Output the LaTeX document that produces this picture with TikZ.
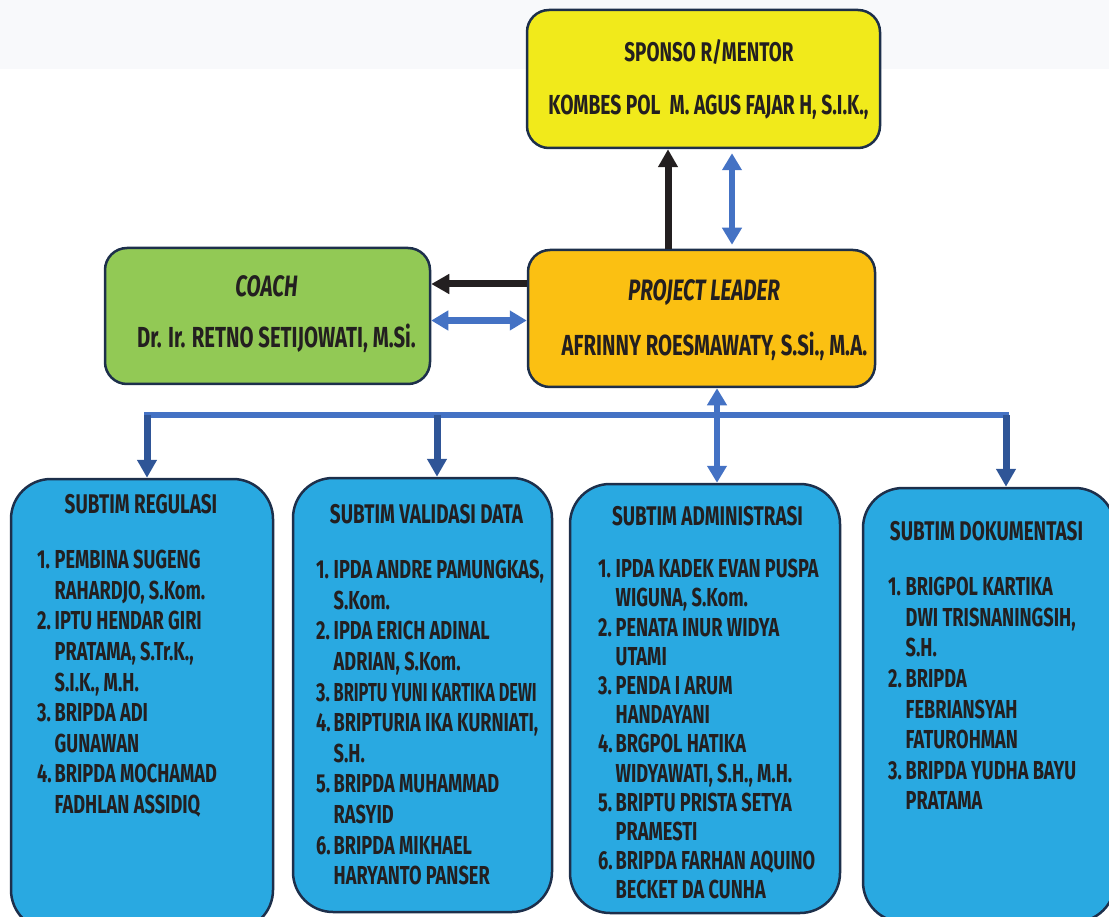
\documentclass[tikz,border=0pt]{standalone}
\usepackage{fontspec}
\setmainfont{Fira Sans}[FakeStretch=0.7]
\usepackage{tikz}
\usetikzlibrary{positioning}
\usetikzlibrary{arrows.meta}
\definecolor{bandgray}{HTML}{F8F9FB}
\definecolor{sponsorfill}{HTML}{F1EA1B}
\definecolor{leaderfill}{HTML}{FBC012}
\definecolor{coachfill}{HTML}{92C955}
\definecolor{subtimfill}{HTML}{29A9E1}
\definecolor{edgeblue}{HTML}{1D2F4B}
\definecolor{linkblue}{HTML}{4472C4}
\definecolor{busblue}{HTML}{2F5597}
\definecolor{inkblack}{HTML}{231F20}
\newcommand{\nr}[1]{\makebox[17.5pt][l]{#1}}
\newcommand{\cont}{\hspace*{17.5pt}}
\tikzset{
block/.style = {draw=edgeblue, line width=2.5pt, rounded corners=22pt, inner sep=0pt},
subtim/.style = {draw=edgeblue, line width=2.5pt, rounded corners=40pt, fill=subtimfill, inner sep=0pt},
txt/.style = {text=inkblack, font=\bfseries\fontsize{26}{30.6}\selectfont, inner sep=0pt, anchor=base},
big/.style = {font=\bfseries\fontsize{29}{30}\selectfont},
head/.style = {font=\bfseries\fontsize{27}{30}\selectfont},
list/.style = {txt, align=left, anchor=north west},
push/.style = {draw=inkblack, line width=7pt, -{Triangle[width=19pt,length=18pt]}},
link/.style = {draw=linkblue, line width=6.5pt, {Triangle[width=19pt,length=17pt]}-{Triangle[width=19pt,length=17pt]}},
bus/.style = {draw=linkblue, line width=6.5pt, line cap=rect},
drop/.style = {draw=busblue, line width=7pt, -{Triangle[width=19pt,length=18pt]}}
}
\begin{document}
\begin{tikzpicture}[x=1pt, y=-1pt]
    \useasboundingbox (0,0) rectangle (1109,917);
    \fill[bandgray] (0,0) rectangle (1109,69);
    % We start by placing the blocks
    \node [block, fill=sponsorfill, minimum width=353pt, minimum height=138pt] (sponsor) at (703.5,79) {};
    \node [block, fill=leaderfill, minimum width=347pt, minimum height=137pt] (leader) at (701.5,318.5) {};
    \node [block, fill=coachfill, minimum width=325pt, minimum height=136pt] (coach) at (267.5,316) {};
    \node [subtim, minimum width=262pt, minimum height=451pt] (reg) at (142,704.5) {};
    \node [subtim, minimum width=259pt, minimum height=434pt] (val) at (422.5,695) {};
    \node [subtim, minimum width=270pt, minimum height=429pt] (adm) at (705,698.5) {};
    \node [subtim, minimum width=252pt, minimum height=434pt] (dok) at (989,705) {};

    % texts of the upper blocks
    \node [txt, head] (sponsortitle) at (709,62) {SPONSO R/MENTOR};
    \node [txt, font=\bfseries\fontsize{27.5}{30}\selectfont] (sponsorname) at (708.5,115) {KOMBES POL\ \ M. AGUS FAJAR H, S.I.K.,};
    \node [txt, font=\bfseries\itshape\fontsize{29.5}{30}\selectfont] (leadertitle) at (704,301) {PROJECT LEADER};
    \node [txt, big] (leadername) at (714.5,356) {AFRINNY ROESMAWATY, S.Si., M.A.};
    \node [txt, font=\bfseries\itshape\fontsize{29.5}{30}\selectfont] (coachtitle) at (266.5,297) {COACH};
    \node [txt, big] (coachname) at (276.5,348) {Dr. Ir. RETNO SETIJOWATI, M.Si.};

    % subtim titles and members
    \node [txt, head] (regtitle) at (141,513) {SUBTIM REGULASI};
    \node [list] (reglist) at (37,550) {\nr{1.}PEMBINA SUGENG\\ \cont RAHARDJO, S.Kom.\\
        \nr{2.}IPTU HENDAR GIRI\\ \cont PRATAMA, S.Tr.K.,\\ \cont S.I.K., M.H.\\
        \nr{3.}BRIPDA ADI\\ \cont GUNAWAN\\ \nr{4.}BRIPDA MOCHAMAD\\ \cont FADHLAN ASSIDIQ};
    \node [txt, head] (valtitle) at (426.5,523) {SUBTIM VALIDASI DATA};
    \node [list] (vallist) at (316,560) {\nr{1.}IPDA ANDRE PAMUNGKAS,\\ \cont S.Kom.\\
        \nr{2.}IPDA ERICH ADINAL\\ \cont ADRIAN, S.Kom.\\ \nr{3.}\scalebox{0.9}[1]{BRIPTU YUNI KARTIKA DEWI}\\
        \nr{4.}BRIPTURIA IKA KURNIATI,\\ \cont S.H.\\ \nr{5.}BRIPDA MUHAMMAD\\ \cont RASYID\\
        \nr{6.}BRIPDA MIKHAEL\\ \cont HARYANTO PANSER};
    \node [txt, head] (admtitle) at (707.5,525) {SUBTIM ADMINISTRASI};
    \node [list, font=\bfseries\fontsize{26}{29.2}\selectfont] (admlist) at (598,559) {\nr{1.}IPDA KADEK EVAN PUSPA\\ \cont WIGUNA, S.Kom.\\
        \nr{2.}PENATA INUR WIDYA\\ \cont UTAMI\\ \nr{3.}PENDA I ARUM\\ \cont HANDAYANI\\
        \nr{4.}BRGPOL HATIKA\\ \cont WIDYAWATI, S.H., M.H.\\ \nr{5.}BRIPTU PRISTA SETYA\\
        \cont PRAMESTI\\ \nr{6.}BRIPDA FARHAN AQUINO\\ \cont BECKET DA CUNHA};
    \node [txt, head] (doktitle) at (986.5,540) {SUBTIM DOKUMENTASI};
    \node [list] (doklist) at (888,577) {\nr{1.}BRIGPOL KARTIKA\\ \cont DWI TRISNANINGSIH,\\ \cont S.H.\\
        \nr{2.}BRIPDA\\ \cont FEBRIANSYAH\\ \cont FATUROHMAN\\ \nr{3.}BRIPDA YUDHA BAYU\\ \cont PRATAMA};

    % connectors
    \draw [push] ([xshift=-33.5pt]leader.north) -- ([xshift=-33.5pt]leader.north |- sponsor.south);
    \draw [link, shorten <=4pt, shorten >=4pt] ([xshift=28.5pt]sponsor.south) -- ([xshift=28.5pt]sponsor.south |- leader.north);
    \draw [push] ([yshift=34.5pt]leader.west) -- ([yshift=34.5pt]leader.west -| coach.east);
    \draw [link] ([yshift=-4.5pt]coach.east) -- ([yshift=-4.5pt]coach.east -| leader.west);

    \coordinate (b1) at (147,415);
    \coordinate (b2) at (437,415);
    \coordinate (b4) at (1006,415);
    \draw [bus] (b1) -- (b4);
    \draw [drop] (b1) -- (b1 |- reg.north);
    \draw [drop] (b2) -- (b2 |- val.north);
    \draw [drop] (b4) -- (b4 |- dok.north);
    \draw [link] ([xshift=15.5pt]leader.south) -- ([xshift=15.5pt]leader.south |- adm.north);
\end{tikzpicture}
\end{document}
